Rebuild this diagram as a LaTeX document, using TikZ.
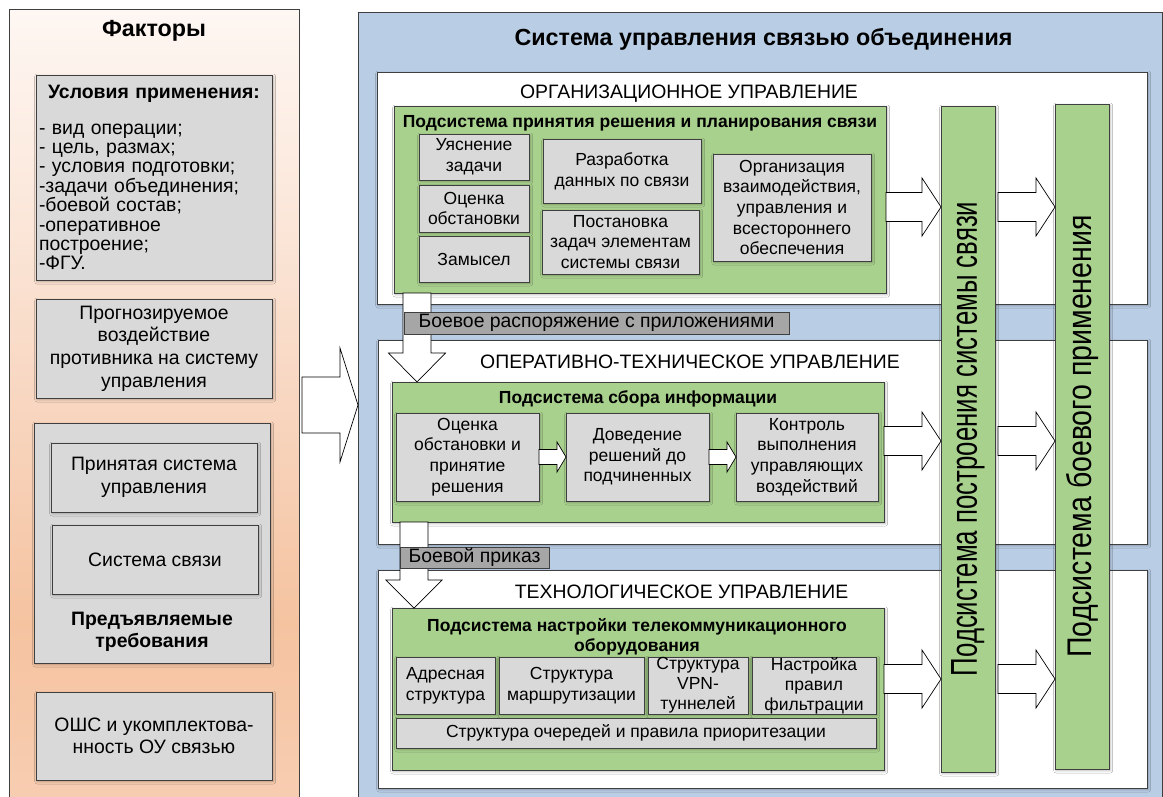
\documentclass[tikz,border=0pt]{standalone}
\usepackage{fontspec}
\setmainfont{Liberation Sans}
\usepackage{graphicx}
\usetikzlibrary{positioning, calc, shadows.blur}

\definecolor{panelblue}{HTML}{B9CDE5}
\definecolor{subgreen}{HTML}{A9D18E}
\definecolor{boxgray}{HTML}{D9D9D9}
\definecolor{labgray}{HTML}{A6A6A6}
\definecolor{edgegray}{HTML}{3F3F3F}
\definecolor{peachA}{HTML}{F7CDB1}
\definecolor{peachB}{HTML}{F5C3A0}
\definecolor{peachC}{HTML}{F8D6C0}
\definecolor{peachD}{HTML}{FBE7DA}
\definecolor{peachE}{HTML}{FEF7F3}
\pgfdeclareverticalshading{peachfade}{100bp}{color(0bp)=(peachA); color(25bp)=(peachA);
  color(36bp)=(peachB); color(50bp)=(peachC); color(62bp)=(peachD);
  color(75bp)=(peachE); color(100bp)=(peachE)}

\begin{document}
\begin{tikzpicture}[x=1pt, y=-1pt,
  every node/.style={inner sep=0pt, outer sep=0pt},
  boxdim/.style 2 args={minimum width=#1pt, minimum height=#2pt},
  softshadow/.style={blur shadow={shadow xshift=1.2pt, shadow yshift=-1.5pt,
                     shadow blur radius=2.5pt, shadow opacity=30}},
  bigtitle/.style={font=\fontsize{23.3}{27}\selectfont\bfseries},
  sectitle/.style={font=\fontsize{19.4}{22}\selectfont},
  subtitle/.style={font=\fontsize{17.5}{20}\selectfont\bfseries, align=center},
  secbox/.style={draw=edgegray, fill=white, line width=0.7pt, softshadow},
  subsys/.style={draw=edgegray, fill=subgreen, line width=0.7pt, softshadow},
  gbox/.style={draw=edgegray, fill=boxgray, line width=0.7pt, align=center,
               softshadow, font=\fontsize{17.5}{20.7}\selectfont},
  lbox/.style={gbox, font=\fontsize{19.4}{22.6}\selectfont},
  ordertag/.style={draw=edgegray, fill=labgray, line width=0.7pt,
                   font=\fontsize{19.4}{22}\selectfont},
  bartext/.style={rotate=90},
  blockr/.style n args={3}{draw=black, fill=white, line width=0.7pt,
    to path={($(\tikztostart)+(0,-#1)$) -- ($(\tikztotarget)+(-#3,-#1)$)
      -- ($(\tikztotarget)+(-#3,-#2)$) -- (\tikztotarget)
      -- ($(\tikztotarget)+(-#3,#2)$) -- ($(\tikztotarget)+(-#3,#1)$)
      -- ($(\tikztostart)+(0,#1)$) -- cycle}},
  blockd/.style n args={3}{draw=black, fill=white, line width=0.7pt,
    to path={($(\tikztostart)+(-#1,0)$) -- ($(\tikztotarget)+(-#1,-#3)$)
      -- ($(\tikztotarget)+(-#2,-#3)$) -- (\tikztotarget)
      -- ($(\tikztotarget)+(#2,-#3)$) -- ($(\tikztotarget)+(#1,-#3)$)
      -- ($(\tikztostart)+(#1,0)$) -- cycle}},
]
  \useasboundingbox (0,0) rectangle (1163,796);

  % Factors
  \node[draw=edgegray, line width=0.7pt, shading=peachfade, boxdim={290}{789}]
        (fpanel) at (154,403.5) {};
  \node[bigtitle] (ftitle) at (154,31) {Факторы};
  \node[lbox, boxdim={236}{205}, text width=230pt, inner xsep=3pt, align=left,
        font=\fontsize{19.4}{19.4}\selectfont] (usl) at (154,177.5)
        {{\centering\bfseries Условия применения:\par}\vspace{16.6pt}%
         - вид операции;\\- цель, размах;\\- условия подготовки;\\
         -задачи объединения;\\-боевой состав;\\-оперативное\\построение;\\-ФГУ.};
  \node[lbox, boxdim={236}{99}] (prog) at (154,348.5)
        {Прогнозируемое\\воздействие\\противника на систему\\управления};
  \node[lbox, boxdim={236}{240}] (treb) at (152,543) {};
  \node[lbox, boxdim={206}{69}] (treb1) at (154,477.5) {Принятая система\\управления};
  \node[lbox, boxdim={206}{69}] (treb2) at (155,559.5) {Система связи};
  \node[font=\fontsize{19.4}{22.4}\selectfont\bfseries, align=center]
        (trebt) at (152,632) {Предъявляемые\\требования};
  \node[lbox, boxdim={236}{88}] (osh) at (154,736)
        {ОШС и укомплектова-\\нность ОУ связью};

  % Control system
  \node[draw=edgegray, line width=0.7pt, fill=panelblue, boxdim={804}{786}]
        (sys) at (760,405) {};
  \node[bigtitle] (systitle) at (763.5,39) {Система управления связью объединения};

  % Organisational level
  \node[secbox, boxdim={770}{232}] (org) at (762,188) {};
  \node[sectitle] (orgt) at (689,94) {ОРГАНИЗАЦИОННОЕ УПРАВЛЕНИЕ};
  \node[subsys, boxdim={492}{187}] (plan) at (640,199.5) {};
  \node[subtitle] (plant) at (640,123)
        {Подсистема принятия решения и планирования связи};
  \node[gbox, boxdim={110}{46}] (task) at (474,157) {Уяснение\\задачи};
  \node[gbox, boxdim={110}{47}] (est) at (474,208.5) {Оценка\\обстановки};
  \node[gbox, boxdim={110}{46}] (idea) at (474,259) {Замысел};
  \node[gbox, boxdim={158}{64}] (data) at (622,171) {Разработка\\данных по связи};
  \node[gbox, boxdim={157}{64}] (assign) at (620.5,242)
        {Постановка\\задач элементам\\системы связи};
  \node[gbox, boxdim={158}{107}] (coop) at (792,207.5)
        {Организация\\взаимодействия,\\управления и\\всестороннего\\обеспечения};

  % Operational-technical level
  \node[secbox, boxdim={769}{204}] (oper) at (762.5,442) {};
  \node[sectitle] (opert) at (690,362) {ОПЕРАТИВНО-ТЕХНИЧЕСКОЕ УПРАВЛЕНИЕ};
  \node[subsys, boxdim={492}{140}] (info) at (638,452) {};
  \node[subtitle] (infot) at (638,399) {Подсистема сбора информации};
  \node[gbox, boxdim={143}{88}] (assess) at (467.5,457)
        {Оценка\\обстановки и\\принятие\\решения};
  \node[gbox, boxdim={143}{88}] (deliver) at (637.5,457)
        {Доведение\\решений до\\подчиненных};
  \node[gbox, boxdim={142}{88}] (control) at (807,457)
        {Контроль\\выполнения\\управляющих\\воздействий};

  % Technological level
  \node[secbox, boxdim={769}{218}] (tech) at (762.5,679) {};
  \node[sectitle] (techt) at (681.5,592) {ТЕХНОЛОГИЧЕСКОЕ УПРАВЛЕНИЕ};
  \node[subsys, boxdim={492}{162}] (tune) at (638,689) {};
  \node[subtitle] (tunet) at (637,637)
        {Подсистема настройки телекоммуникационного\\оборудования};
  \node[gbox, boxdim={99}{57}] (addr) at (445.5,685.5) {Адресная\\структура};
  \node[gbox, boxdim={145}{57}] (route) at (571.5,685.5) {Структура\\маршрутизации};
  \node[gbox, boxdim={100}{57}, font=\fontsize{17.5}{20}\selectfont]
        (vpn) at (698,685.5) {Структура\\VPN-\\туннелей};
  \node[gbox, boxdim={124}{57}, font=\fontsize{17.5}{20}\selectfont]
        (filt) at (814,685.5) {Настройка\\правил\\фильтрации};
  \node[gbox, boxdim={480}{30}] (queue) at (636,733)
        {Структура очередей и правила приоритезации};

  % Vertical subsystems
  \node[subsys, boxdim={54}{666}] (build) at (968,439) {};
  \node[bartext, font=\fontsize{25.8}{28}\selectfont] (buildt) at (build)
        {\scalebox{1}[1.45]{Подсистема построения системы связи}};
  \node[subsys, boxdim={54}{665}] (combat) at (1082,436.5) {};
  \node[bartext, font=\fontsize{28.5}{30}\selectfont] (combatt) at (combat)
        {\scalebox{1}[1.2]{Подсистема боевого применения}};

  % Block arrows
  \coordinate (r1) at (0,207);
  \coordinate (r2) at (0,441);
  \coordinate (r3) at (0,679);
  \foreach \g/\y in {plan/r1, info/r2, tune/r3} {
    \draw[blockr={14.5}{29}{19}] (\g.east |- \y) to (build.west |- \y);
    \draw[blockr={14.5}{29}{19}] ($(build.east |- \y)+(3,0)$) to (combat.west |- \y);
  }
  \foreach \a/\b in {assess/deliver, deliver/control}
    \draw[blockr={7.5}{15}{9}] (\a.east) to (\b.west);

  \coordinate (mid) at (0,405);
  \draw[blockr={28}{57}{18}] ($(fpanel.east |- mid)+(3,0)$) to (sys.west |- mid);

  \coordinate (d1) at (417,0);
  \coordinate (d2) at (414,0);
  \draw[blockd={14}{28.5}{29}] (plan.south -| d1) to (info.north -| d1);
  \draw[blockd={14}{28}{28}] (info.south -| d2) to (tune.north -| d2);

  % Orders
  \node[ordertag, boxdim={385}{22}] (order1) at (596.5,323)
        {Боевое распоряжение с приложениями};
  \node[ordertag, boxdim={149}{21}] (order2) at (474.5,557.5) {Боевой приказ};

\end{tikzpicture}
\end{document}
